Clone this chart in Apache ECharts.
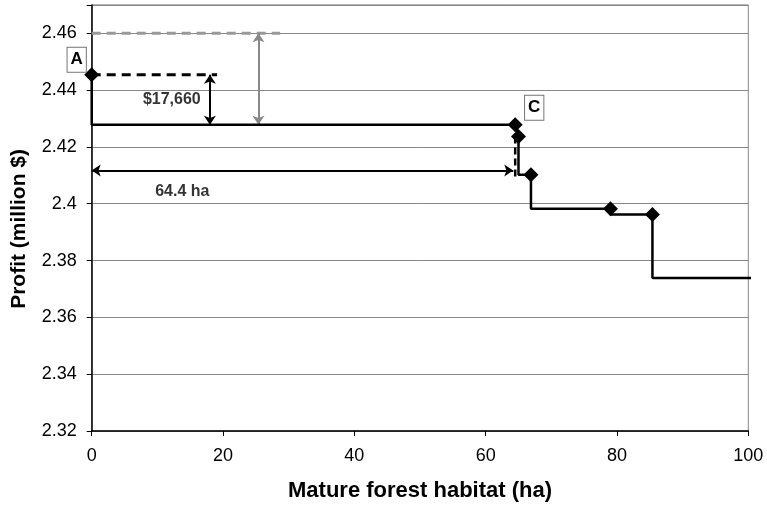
<!DOCTYPE html>
<html>
<head>
<meta charset="utf-8">
<script src="https://cdn.jsdelivr.net/npm/echarts@6/dist/echarts.min.js"></script>
<style>html,body{margin:0;padding:0;background:#fff}#c{width:767px;height:507px}</style>
</head>
<body>
<div id="c"></div>
<script>
// Main stepped profit path: [habitat ha, profit million $, isMarker]
const pathX = [0, 0, 64.5, 65.0, 65.0, 66.9, 66.9, 79.0, 79.0, 85.4, 85.4, 101.3];
const pathY = [2.4454, 2.4278, 2.4278, 2.4237, 2.4102, 2.4102, 2.3982, 2.3982, 2.3962, 2.3962, 2.3739, 2.3739];
const pathMarker = [1, 0, 1, 1, 0, 1, 0, 1, 0, 1, 0, 0];
const pathLabel = ['A', '', 'C', '', '', '', '', '', '', '', '', ''];

// Reference dashed lines
const blackDashX = [0, 19.1];
const blackDashY = [2.4454, 2.4454];
const grayDashX = [0, 28.7];
const grayDashY = [2.46, 2.46];
const vDashX = [64.5, 64.5];
const vDashY = [2.4237, 2.4092];

// Arrows
const arrowBlackX = [18.0, 18.0];
const arrowBlackY = [2.4454, 2.4278];
const arrowGrayX = [25.4, 25.4];
const arrowGrayY = [2.46, 2.4278];
const arrowHabX = [0, 64.2];
const arrowHabY = [2.4117, 2.4117];

// Text annotations
const noteText = ['$17,660', '64.4 ha'];
const noteX = [12.2, 13.8];
const noteY = [2.4366, 2.4043];

const xTicks = [0, 20, 40, 60, 80, 100];
const yTicks = [2.32, 2.34, 2.36, 2.38, 2.40, 2.42, 2.44, 2.46];

const pair = (xs, ys) => xs.map((x, i) => [x, ys[i]]);

const chart = echarts.init(document.getElementById('c'));
const FONT = 'Liberation Sans, Arial, sans-serif';

const boxLabel = (offset) => ({
  show: true, color: '#000', fontFamily: FONT, fontWeight: 'bold', fontSize: 17,
  backgroundColor: '#fff', borderColor: '#777', borderWidth: 1, padding: [4, 3, 3, 3],
  position: 'inside', offset: offset
});

const pathData = pathX.map((x, i) => {
  const d = { value: [x, pathY[i]] };
  if (!pathMarker[i]) d.symbol = 'none';
  if (pathLabel[i] === 'A') d.label = Object.assign(boxLabel([-15, -15]), { formatter: 'A' });
  if (pathLabel[i] === 'C') d.label = Object.assign(boxLabel([19, -17]), { formatter: 'C' });
  return d;
});

const arrowSeries = (xs, ys, color) => ({
  type: 'lines', coordinateSystem: 'cartesian2d', z: 4,
  symbol: ['arrow', 'arrow'], symbolSize: 9,
  lineStyle: { color: color, width: 2, opacity: 1 },
  data: [{ coords: pair(xs, ys) }],
  silent: true
});

chart.setOption({
  animation: false,
  backgroundColor: '#fff',
  grid: { left: 91.7, right: 18.7, top: 4.9, bottom: 75.3, show: true, borderColor: '#888', borderWidth: 1 },
  xAxis: {
    type: 'value', min: 0, max: 100, interval: 20,
    name: 'Mature forest habitat (ha)', nameLocation: 'middle', nameGap: 49,
    nameTextStyle: { fontFamily: FONT, fontWeight: 'bold', fontSize: 22, color: '#000' },
    axisLine: { show: true, lineStyle: { color: '#000', width: 1.5 } },
    axisTick: { show: true, length: 5, lineStyle: { color: '#000' } },
    axisLabel: { fontFamily: FONT, fontSize: 18, color: '#000', margin: 16,
      formatter: v => xTicks.indexOf(v) >= 0 ? String(v) : '' },
    splitLine: { show: false }
  },
  yAxis: {
    type: 'value', min: 2.32, max: 2.47, interval: 0.02,
    name: 'Profit (million $)', nameLocation: 'middle', nameGap: 62,
    nameTextStyle: { fontFamily: FONT, fontWeight: 'bold', fontSize: 21, color: '#000', padding: [0, 22, 0, 0] },
    axisLine: { show: true, lineStyle: { color: '#000', width: 1.5 } },
    axisTick: { show: true, length: 5, lineStyle: { color: '#000' } },
    axisLabel: { fontFamily: FONT, fontSize: 18, color: '#000', margin: 15,
      formatter: v => {
        const r = Math.round(v * 100) / 100;
        return yTicks.some(t => Math.abs(t - r) < 1e-9) ? String(r) : '';
      } },
    splitLine: { show: true, lineStyle: { color: '#888', width: 1 } }
  },
  series: [
    {
      type: 'line', data: pair(grayDashX, grayDashY), symbol: 'none', z: 3,
      lineStyle: { color: '#999', width: 3, type: [9, 6] }
    },
    {
      type: 'line', data: pair(blackDashX, blackDashY), symbol: 'none', z: 3,
      lineStyle: { color: '#000', width: 3, type: [9, 6] }
    },
    {
      type: 'line', data: pair(vDashX, vDashY), symbol: 'none', z: 3,
      lineStyle: { color: '#000', width: 2.5, type: [7, 4] }
    },
    arrowSeries(arrowBlackX, arrowBlackY, '#000'),
    arrowSeries(arrowGrayX, arrowGrayY, '#888'),
    arrowSeries(arrowHabX, arrowHabY, '#000'),
    {
      type: 'line', data: pathData, clip: false, z: 5,
      symbol: 'diamond', symbolSize: 15,
      itemStyle: { color: '#000' },
      lineStyle: { color: '#000', width: 2.5 }
    },
    {
      type: 'scatter', symbolSize: 0, z: 6, silent: true,
      data: noteX.map((x, i) => ({ value: [x, noteY[i]], name: noteText[i] })),
      label: { show: true, position: 'inside', formatter: p => p.name,
        fontFamily: FONT, fontWeight: 'bold', fontSize: 16, color: '#000' }
    }
  ]
});
</script>
</body>
</html>
